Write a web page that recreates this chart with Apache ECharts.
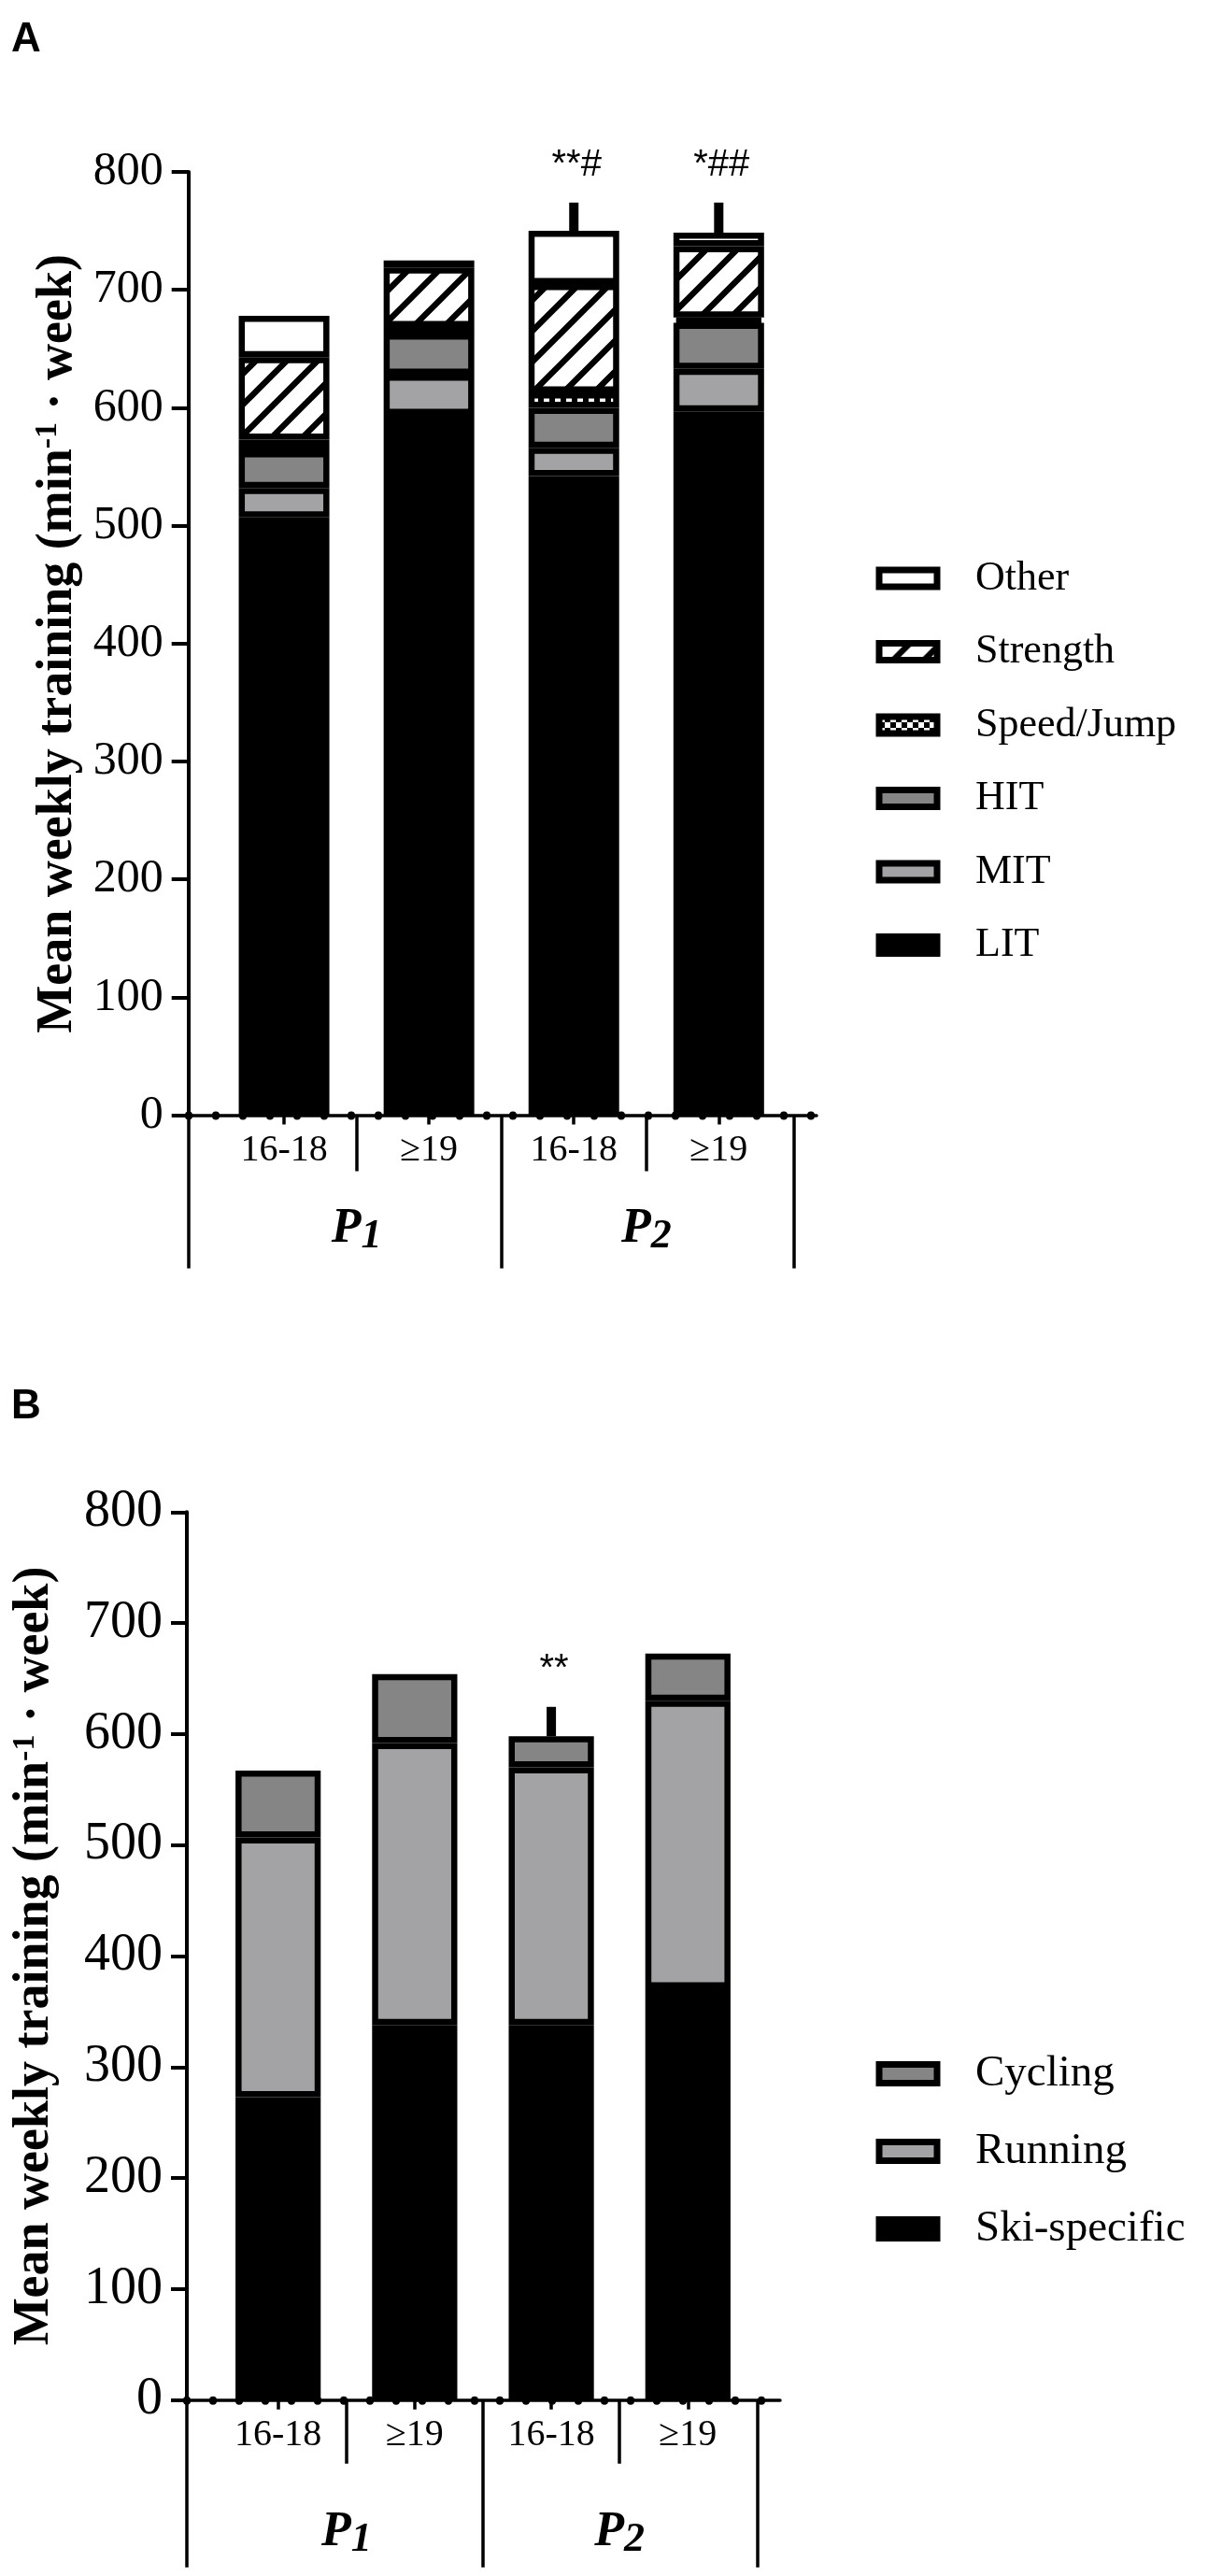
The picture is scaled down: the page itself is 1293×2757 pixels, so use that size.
<!DOCTYPE html>
<html>
<head>
<meta charset="utf-8">
<title>Mean weekly training</title>
<script src="https://cdn.jsdelivr.net/npm/echarts@6.0.0/dist/echarts.min.js"></script>
<style>
  html, body { margin: 0; padding: 0; background: #fff; }
  #chart { width: 1293px; height: 2757px; }
</style>
</head>
<body>
<div id="chart"></div>
<script>
// categories
var ageGroups = ['16-18', '\u226519', '16-18', '\u226519'];
var periods = ['P1', 'P2'];

// panel A: intensity zones and training forms (min per week)
var litA = [507, 594, 542, 597];
var mitA = [25, 34, 24, 36];
var hitA = [31, 35, 34, 39];
var speedA = [10, 5.5, 13, 4.5];
var strengthA = [70, 50.5, 92, 60.5];
var otherA = [35, 6, 45, 11.5];
var errA = [null, null, 24, 25.5];
var marksA = ['', '', '**#', '*##'];

// panel B: training modes (min per week)
var skiB = [273, 338, 338, 371];
var runningB = [234, 254, 232, 259];
var cyclingB = [60, 62, 28, 42.5];
var errB = [null, null, 26.5, null];
var marksB = ['', '', '**', ''];

var serif = 'Liberation Serif, Times New Roman, serif';
var sans = 'Liberation Sans, Arial, sans-serif';
var darkGrey = '#858585';
var lightGrey = '#a3a3a6';

// axis frame of each panel; x runs in category units (first bar = 0)
var layoutA = {
    grid: { left: 201.7, top: 184, width: 672.3, height: 1009.6 },
    xMin: -0.66, xMax: 3.675, xRight: 3.52,
    dotMax: 23.215, dotCount: 23,
    barWidth: 97,
    labelSize: 40, labelMargin: 18,
    tickLabelSize: 50, tickLabelMargin: 27, tickLen: 18,
    sepLen: 60, groupLen: 164, periodMargin: 92,
    nameGap: 113
};
var layoutB = {
    grid: { left: 200, top: 1618.3, width: 635, height: 950.4 },
    xMin: -0.668, xMax: 3.675, xRight: 3.51,
    dotMax: 22.73, dotCount: 22,
    barWidth: 91.2,
    labelSize: 40, labelMargin: 18,
    tickLabelSize: 56, tickLabelMargin: 26, tickLen: 17,
    sepLen: 68, groupLen: 179, periodMargin: 112,
    nameGap: 136
};

// grid holding the category bands, placed inside the axis frame
function bandGrid(L) {
    var g = L.grid;
    var unit = g.width / (L.xMax - L.xMin);
    return {
        left: g.left + (-0.5 - L.xMin) * unit,
        top: g.top,
        width: ageGroups.length * unit,
        height: g.height
    };
}

function hatchPattern() {
    var p = 33;
    var c = document.createElement('canvas');
    c.width = p;
    c.height = p;
    var ctx = c.getContext('2d');
    ctx.fillStyle = '#fff';
    ctx.fillRect(0, 0, p, p);
    ctx.strokeStyle = '#000';
    ctx.lineWidth = 6.5;
    ctx.beginPath();
    [0, p, 2 * p].forEach(function (s) {
        ctx.moveTo(s + 2, -2);
        ctx.lineTo(s - p - 2, p + 2);
    });
    ctx.stroke();
    return { image: c, repeat: 'repeat' };
}

function checkPattern() {
    var s = 6;
    var c = document.createElement('canvas');
    c.width = 2 * s;
    c.height = 2 * s;
    var ctx = c.getContext('2d');
    ctx.fillStyle = '#fff';
    ctx.fillRect(0, 0, 2 * s, 2 * s);
    ctx.fillStyle = '#000';
    ctx.fillRect(s, 0, s, s);
    ctx.fillRect(0, s, s, s);
    return { image: c, repeat: 'repeat' };
}

function buildXAxes(frameIdx, bandIdx, L) {
    var idx = ageGroups.map(function (_, i) { return i; });
    var dots = [];
    for (var k = 0; k <= L.dotCount; k++) {
        dots.push(k);
    }
    var line = { color: '#000', width: 3.5 };
    function ax(extra) {
        return Object.assign({
            gridIndex: frameIdx, type: 'value', position: 'bottom', offset: 0,
            min: L.xMin, max: L.xMax,
            splitLine: { show: false },
            axisLine: { show: false },
            axisLabel: { show: false },
            axisTick: { show: false }
        }, extra);
    }
    return [
        // main axis: line, centre ticks, age labels
        ax({
            axisLine: { show: true, onZero: false, lineStyle: line },
            axisTick: { show: true, customValues: idx, length: 10, lineStyle: line },
            axisLabel: {
                show: true, customValues: idx, margin: L.labelMargin,
                color: '#000', fontFamily: serif, fontSize: L.labelSize,
                formatter: function (v) { return ageGroups[Math.round(v)]; }
            }
        }),
        // dotted axis decoration
        ax({
            min: 0, max: L.dotMax,
            axisTick: {
                show: true, customValues: dots, length: 1,
                lineStyle: { color: '#000', width: 8, cap: 'round' }
            }
        }),
        // separators between age groups
        ax({
            axisTick: { show: true, customValues: [0.5, 2.5], length: L.sepLen, lineStyle: line }
        }),
        // period brackets and labels
        ax({
            axisTick: { show: true, customValues: [L.xMin, 1.5, L.xRight], length: L.groupLen, lineStyle: line },
            axisLabel: {
                show: true, customValues: [0.5, 2.5], margin: L.periodMargin,
                formatter: function (v) {
                    var t = periods[Math.round((v - 0.5) / 2)];
                    return '{p|' + t.charAt(0) + '}{s|' + t.slice(1) + '}';
                },
                rich: {
                    p: { fontFamily: serif, fontWeight: 'bold', fontStyle: 'italic', fontSize: 52, lineHeight: 60, verticalAlign: 'middle', color: '#000' },
                    s: { fontFamily: serif, fontWeight: 'bold', fontStyle: 'italic', fontSize: 44, lineHeight: 34, verticalAlign: 'bottom', color: '#000' }
                }
            }
        }),
        // category axis carrying the bars (not drawn)
        { gridIndex: bandIdx, type: 'category', data: ageGroups, show: false }
    ];
}

function buildYAxes(frameIdx, bandIdx, L) {
    return [{
        gridIndex: frameIdx, type: 'value', min: 0, max: 800, interval: 100,
        axisLine: { show: true, onZero: false, lineStyle: { color: '#000', width: 4 } },
        axisTick: { show: true, length: L.tickLen, lineStyle: { color: '#000', width: 4 } },
        axisLabel: { color: '#000', fontFamily: serif, fontSize: L.tickLabelSize, margin: L.tickLabelMargin },
        splitLine: { show: false },
        name: '{n|Mean weekly training (min}{sup|-1}{n| \u00b7 week)}',
        nameLocation: 'middle', nameGap: L.nameGap, nameRotate: 90,
        nameTextStyle: {
            color: '#000', fontFamily: serif, fontWeight: 'bold', fontSize: 54,
            rich: {
                n: { fontFamily: serif, fontWeight: 'bold', fontSize: 54, lineHeight: 54, color: '#000' },
                sup: { fontFamily: serif, fontWeight: 'bold', fontSize: 34, lineHeight: 26, verticalAlign: 'top', color: '#000' }
            }
        }
    }, {
        gridIndex: bandIdx, type: 'value', min: 0, max: 800, show: false, splitLine: { show: false }
    }];
}

function barSeries(name, values, color, xi, yi, stack, width) {
    return {
        name: name, type: 'bar', stack: stack,
        xAxisIndex: xi, yAxisIndex: yi,
        barWidth: width,
        data: values,
        itemStyle: { color: color, borderColor: '#000', borderWidth: 6.5 },
        emphasis: { disabled: true }
    };
}

function sumArrays(list) {
    return list[0].map(function (_, i) {
        return list.reduce(function (s, a) { return s + a[i]; }, 0);
    });
}

function errorSeries(xi, yi, totals, errs, marks) {
    var data = [];
    errs.forEach(function (e, i) {
        if (e != null) {
            data.push([i, totals[i], e]);
        }
    });
    return {
        type: 'custom', xAxisIndex: xi, yAxisIndex: yi, z: 5, silent: true,
        encode: { x: 0, y: 1 },
        data: data,
        renderItem: function (params, api) {
            var i = api.value(0);
            var base = api.coord([i, api.value(1)]);
            var tip = api.coord([i, api.value(1) + api.value(2)]);
            return {
                type: 'group',
                children: [{
                    type: 'rect',
                    shape: { x: base[0] - 5, y: tip[1], width: 10, height: base[1] - tip[1] },
                    style: { fill: '#000' }
                }, {
                    type: 'text',
                    style: {
                        text: marks[i], x: tip[0] + 3, y: tip[1] - 40,
                        align: 'center', verticalAlign: 'middle',
                        fontFamily: sans, fontSize: 40, fill: '#000'
                    }
                }]
            };
        }
    };
}

function legend(names, top, size, gap, itemH) {
    return {
        orient: 'vertical', left: 937.5, top: top, padding: 0,
        itemWidth: 62, itemHeight: itemH, itemGap: gap, icon: 'rect',
        selectedMode: false,
        itemStyle: { borderColor: '#000', borderWidth: 7 },
        textStyle: { fontFamily: serif, fontSize: size, lineHeight: size, color: '#000', padding: [0, 0, 0, 36] },
        data: names
    };
}

var el = document.getElementById('chart');
var myChart = echarts.init(el);

var totalsA = sumArrays([litA, mitA, hitA, speedA, strengthA, otherA]);
var totalsB = sumArrays([skiB, runningB, cyclingB]);

// grids: 0 frame A, 1 bands A, 2 frame B, 3 bands B
// xAxis: 0-4 panel A (4 = bars), 5-9 panel B (9 = bars); yAxis: 0,1 A and 2,3 B
var option = {
    animation: false,
    backgroundColor: '#fff',
    title: [
        { text: 'A', left: 12, top: 21, padding: 0, textStyle: { fontFamily: sans, fontWeight: 'bold', fontSize: 44, color: '#000' } },
        { text: 'B', left: 12, top: 1484, padding: 0, textStyle: { fontFamily: sans, fontWeight: 'bold', fontSize: 44, color: '#000' } }
    ],
    legend: [
        legend(['Other', 'Strength', 'Speed/Jump', 'HIT', 'MIT', 'LIT'], 597, 44, 34.5, 18),
        legend(['Cycling', 'Running', 'Ski-specific'], 2196, 47, 36, 20)
    ],
    grid: [layoutA.grid, bandGrid(layoutA), layoutB.grid, bandGrid(layoutB)],
    xAxis: buildXAxes(0, 1, layoutA).concat(buildXAxes(2, 3, layoutB)),
    yAxis: buildYAxes(0, 1, layoutA).concat(buildYAxes(2, 3, layoutB)),
    series: [
        barSeries('LIT', litA, '#000', 4, 1, 'A', layoutA.barWidth),
        barSeries('MIT', mitA, lightGrey, 4, 1, 'A', layoutA.barWidth),
        barSeries('HIT', hitA, darkGrey, 4, 1, 'A', layoutA.barWidth),
        barSeries('Speed/Jump', speedA, checkPattern(), 4, 1, 'A', layoutA.barWidth),
        barSeries('Strength', strengthA, hatchPattern(), 4, 1, 'A', layoutA.barWidth),
        barSeries('Other', otherA, '#fff', 4, 1, 'A', layoutA.barWidth),
        errorSeries(4, 1, totalsA, errA, marksA),
        barSeries('Ski-specific', skiB, '#000', 9, 3, 'B', layoutB.barWidth),
        barSeries('Running', runningB, lightGrey, 9, 3, 'B', layoutB.barWidth),
        barSeries('Cycling', cyclingB, darkGrey, 9, 3, 'B', layoutB.barWidth),
        errorSeries(9, 3, totalsB, errB, marksB)
    ]
};
myChart.setOption(option);
</script>
</body>
</html>
